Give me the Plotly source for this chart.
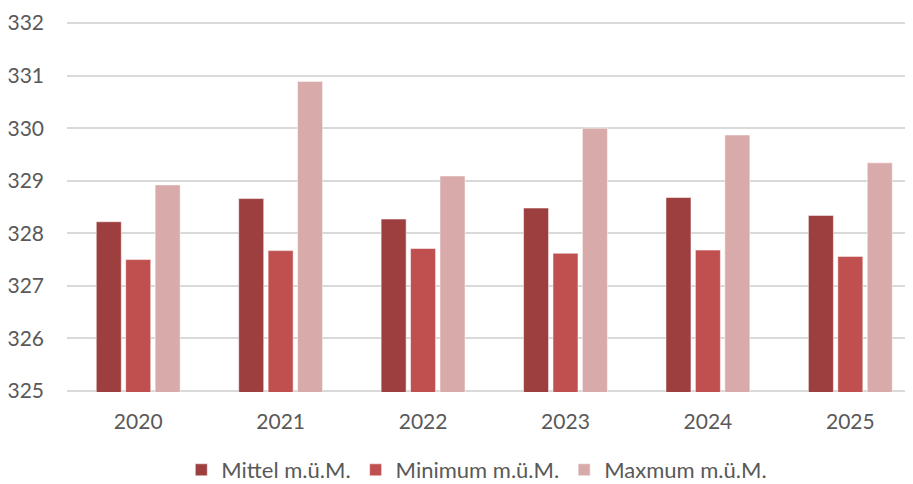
import plotly.graph_objects as go

years = ["2020", "2021", "2022", "2023", "2024", "2025"]
mittel = [328.22, 328.66, 328.27, 328.48, 328.68, 328.34]
minimum = [327.50, 327.67, 327.71, 327.62, 327.68, 327.56]
maximum = [328.92, 330.89, 329.09, 330.00, 329.87, 329.34]
y_ticks = [325, 326, 327, 328, 329, 330, 331, 332]

series_names = ["Mittel m.ü.M.", "Minimum m.ü.M.", "Maxmum m.ü.M."]
series_vals = [mittel, minimum, maximum]
colors = ["#9E3F3F", "#C0504F", "#D9AAAA"]

fig = go.Figure()
for name, vals, col in zip(series_names, series_vals, colors):
    fig.add_trace(go.Bar(
        x=years, y=vals, name=name,
        marker=dict(color=col, line=dict(color="rgba(255,255,255,0.5)", width=1)),
    ))

font_family = "Lato, 'Open Sans', sans-serif"
fig.update_layout(
    width=905, height=476,
    margin=dict(l=59, r=0, t=14, b=92, autoexpand=False),
    paper_bgcolor="white", plot_bgcolor="white",
    barmode="group", bargap=0.38, bargroupgap=0.15,
    font=dict(family=font_family, size=21, color="#595959"),
    showlegend=True,
    legend=dict(orientation="h", xref="container", yref="container",
                x=0.518, xanchor="center", y=0.0294, yanchor="middle",
                font=dict(size=22, color="#595959"), traceorder="normal"),
    xaxis=dict(type="category", range=[-0.5, 5.44], showgrid=False, showline=False,
               ticks="", ticklabelstandoff=15, automargin=False,
               tickfont=dict(size=21, color="#595959")),
    yaxis=dict(range=[324.98, 332.02], tickvals=y_ticks, showgrid=True, gridcolor="#D9D9D9",
               gridwidth=1.5, zeroline=False, showline=False, ticks="", automargin=False,
               ticklabelstandoff=22, tickfont=dict(size=21, color="#595959")),
)
fig.write_html("out.html")
